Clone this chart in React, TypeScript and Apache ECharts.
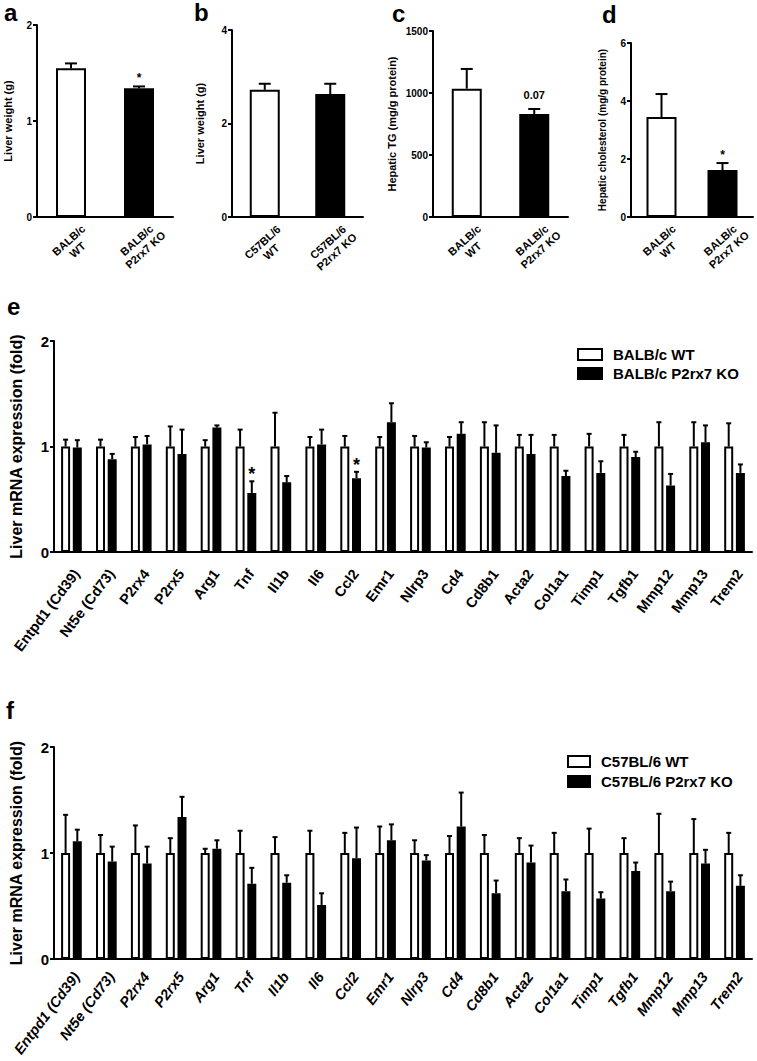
import React, { useEffect, useRef } from "react";
import * as echarts from "echarts";

// ---------- data ----------
const topLabelsBalb = ["BALB/c\nWT", "BALB/c\nP2rx7 KO"];
const topLabelsC57 = ["C57BL/6\nWT", "C57BL/6\nP2rx7 KO"];

const aMeans = [1.55, 1.34];
const aErrTop = [1.6, 1.36];
const aMarks = ["", "*"];

const bMeans = [2.72, 2.63];
const bErrTop = [2.85, 2.85];
const bMarks = ["", ""];

const cMeans = [1035, 830];
const cErrTop = [1194, 871];
const cMarks = ["", "0.07"];

const dMeans = [3.45, 1.62];
const dErrTop = [4.24, 1.86];
const dMarks = ["", "*"];

const genes = [
  "Entpd1 (Cd39)", "Nt5e (Cd73)", "P2rx4", "P2rx5", "Arg1", "Tnf", "Il1b", "Il6", "Ccl2", "Emr1",
  "Nlrp3", "Cd4", "Cd8b1", "Acta2", "Col1a1", "Timp1", "Tgfb1", "Mmp12", "Mmp13", "Trem2",
];

const eWtMeans = [1, 1, 1, 1, 1, 1, 1, 1, 1, 1, 1, 1, 1, 1, 1, 1, 1, 1, 1, 1];
const eWtErrTop = [1.065, 1.065, 1.09, 1.19, 1.06, 1.16, 1.32, 1.09, 1.1, 1.09, 1.1, 1.09, 1.23, 1.11, 1.11, 1.12, 1.11, 1.23, 1.23, 1.22];
const eKoMeans = [0.99, 0.88, 1.02, 0.93, 1.18, 0.56, 0.66, 1.02, 0.7, 1.23, 0.99, 1.12, 0.94, 0.93, 0.72, 0.75, 0.9, 0.63, 1.04, 0.75];
const eKoErrTop = [1.06, 0.93, 1.1, 1.16, 1.2, 0.67, 0.72, 1.16, 0.76, 1.41, 1.04, 1.23, 1.2, 1.11, 0.77, 0.86, 0.95, 0.74, 1.2, 0.83];
const eKoMarks = ["", "", "", "", "", "*", "", "", "*", "", "", "", "", "", "", "", "", "", "", ""];

const fWtMeans = [1, 1, 1, 1, 1, 1, 1, 1, 1, 1, 1, 1, 1, 1, 1, 1, 1, 1, 1, 1];
const fWtErrTop = [1.36, 1.17, 1.26, 1.14, 1.04, 1.21, 1.15, 1.21, 1.19, 1.25, 1.12, 1.16, 1.17, 1.14, 1.19, 1.23, 1.14, 1.37, 1.32, 1.19];
const fKoMeans = [1.11, 0.92, 0.9, 1.34, 1.04, 0.71, 0.72, 0.51, 0.95, 1.12, 0.93, 1.25, 0.62, 0.91, 0.64, 0.57, 0.83, 0.64, 0.9, 0.69];
const fKoErrTop = [1.22, 1.06, 1.06, 1.53, 1.12, 0.86, 0.79, 0.62, 1.24, 1.27, 0.98, 1.57, 0.74, 1.07, 0.75, 0.63, 0.91, 0.73, 1.03, 0.79];
const fKoMarks = genes.map(() => "");

const eSeriesNames = ["BALB/c WT", "BALB/c P2rx7 KO"];
const fSeriesNames = ["C57BL/6 WT", "C57BL/6 P2rx7 KO"];

// ---------- helpers ----------
const FONT = "'Liberation Sans', Arial, sans-serif";
const BLACK = "#000";

function errSeries(
  grid: number,
  means: number[],
  tops: number[],
  offset: number,
  capHalf: number,
  marks: string[],
  markSize: number,
  markGap: number
) {
  return {
    type: "custom",
    xAxisIndex: grid,
    yAxisIndex: grid,
    z: 5,
    silent: true,
    data: means.map((m, i) => [i, m, tops[i]]),
    renderItem: (params: any, api: any) => {
      const i = api.value(0);
      const m = api.value(1);
      const t = api.value(2);
      const p0 = api.coord([i, m]);
      const p1 = api.coord([i, t]);
      const x = p0[0] + offset;
      const children: any[] = [
        { type: "line", shape: { x1: x, y1: p0[1], x2: x, y2: p1[1] }, style: { stroke: BLACK, lineWidth: 2 } },
        { type: "line", shape: { x1: x - capHalf, y1: p1[1], x2: x + capHalf, y2: p1[1] }, style: { stroke: BLACK, lineWidth: 2 } },
      ];
      const mk = marks[params.dataIndex];
      if (mk) {
        children.push({
          type: "text",
          style: {
            text: mk,
            x: x,
            y: p1[1] - markGap,
            align: "center",
            verticalAlign: "bottom",
            fill: BLACK,
            font: `bold ${markSize}px ${FONT}`,
          },
        });
      }
      return { type: "group", children };
    },
  };
}

// category labels drawn at the axis' own category positions, rotated
function labelSeries(
  grid: number,
  labels: string[],
  rotateDeg: number,
  fontSize: number,
  dx: number,
  dy: number,
  align: string,
  italic: boolean
) {
  return {
    type: "custom",
    xAxisIndex: grid,
    yAxisIndex: grid,
    silent: true,
    clip: false,
    z: 6,
    data: labels.map((l, i) => [i, 0]),
    renderItem: (params: any, api: any) => {
      const p = api.coord([api.value(0), 0]);
      return {
        type: "text",
        x: p[0] + dx,
        y: p[1] + dy,
        rotation: (rotateDeg * Math.PI) / 180,
        style: {
          text: labels[params.dataIndex],
          align,
          verticalAlign: "middle",
          fill: BLACK,
          font: `${italic ? "italic " : ""}bold ${fontSize}px ${FONT}`,
          lineHeight: fontSize + 2,
        },
      };
    },
  };
}

function yAxisCfg(grid: number, max: number, interval: number, name: string, nameGap: number, fontSize: number, nameSize: number) {
  return {
    type: "value",
    gridIndex: grid,
    min: 0,
    max,
    interval,
    name,
    nameLocation: "middle",
    nameGap,
    nameRotate: 90,
    nameTextStyle: { fontFamily: FONT, fontWeight: "bold", fontSize: nameSize, color: BLACK },
    axisLine: { show: true, lineStyle: { color: BLACK, width: 2 } },
    axisTick: { show: true, length: 4, lineStyle: { color: BLACK, width: 2 } },
    axisLabel: {
      fontFamily: FONT,
      fontWeight: "bold",
      fontSize,
      color: BLACK,
      margin: 5,
      formatter: (v: number) => String(v),
    },
    splitLine: { show: false },
  };
}

function xAxisCfg(grid: number, data: string[]) {
  return {
    type: "category",
    gridIndex: grid,
    data,
    axisLine: { show: true, lineStyle: { color: BLACK, width: 2 } },
    axisTick: { show: false },
    axisLabel: { show: false },
  };
}

const whiteStyle = { color: "#fff", borderColor: BLACK, borderWidth: 2 };
const blackStyle = { color: BLACK, borderColor: BLACK, borderWidth: 2 };

function topBar(grid: number, means: number[]) {
  return {
    type: "bar",
    xAxisIndex: grid,
    yAxisIndex: grid,
    barWidth: 30,
    data: [
      { value: means[0], itemStyle: whiteStyle },
      { value: means[1], itemStyle: blackStyle },
    ],
  };
}

const BW = 9;
const GAP = 2.7;
const OFF = (BW + GAP) / 2;

function geneBars(grid: number, names: string[], wt: number[], ko: number[]) {
  return [
    { type: "bar", name: names[0], xAxisIndex: grid, yAxisIndex: grid, barWidth: BW, barGap: "30%", itemStyle: whiteStyle, data: wt },
    { type: "bar", name: names[1], xAxisIndex: grid, yAxisIndex: grid, barWidth: BW, barGap: "30%", itemStyle: blackStyle, data: ko },
  ];
}

function letter(t: string, x: number, y: number) {
  return {
    type: "text",
    left: x,
    top: y,
    style: { text: t, fill: BLACK, font: `bold 24px ${FONT}` },
  };
}

function legendCfg(names: string[], left: number, top: number, w: number, gap: number) {
  return {
    data: names,
    orient: "vertical",
    left,
    top,
    itemWidth: w,
    itemHeight: 11,
    itemGap: gap,
    icon: "rect",
    textStyle: { fontFamily: FONT, fontWeight: "bold", fontSize: 15, color: BLACK, padding: [0, 0, 0, 6] },
    selectedMode: false,
  };
}

export default function App() {
  const ref = useRef<HTMLDivElement>(null);
  useEffect(() => {
    if (!ref.current) return;
    const chart = echarts.init(ref.current, null, { renderer: "svg" });
    const noMarks = genes.map(() => "");
    const TOPROT = 42;
    const option: any = {
      animation: false,
      backgroundColor: "#fff",
      grid: [
        { left: 37, top: 25, width: 136, height: 192 },
        { left: 232, top: 30, width: 131, height: 187 },
        { left: 433, top: 31, width: 135, height: 186 },
        { left: 631, top: 43, width: 122, height: 174 },
        { left: 52, top: 341, width: 700, height: 211 },
        { left: 52, top: 747, width: 700, height: 212 },
      ],
      xAxis: [
        xAxisCfg(0, topLabelsBalb),
        xAxisCfg(1, topLabelsC57),
        xAxisCfg(2, topLabelsBalb),
        xAxisCfg(3, topLabelsBalb),
        xAxisCfg(4, genes),
        xAxisCfg(5, genes),
      ],
      yAxis: [
        yAxisCfg(0, 2, 1, "Liver weight (g)", 24, 10, 11),
        yAxisCfg(1, 4, 2, "Liver weight (g)", 27, 10, 11),
        yAxisCfg(2, 1500, 500, "Hepatic TG (mg/g protein)", 36, 10, 11),
        yAxisCfg(3, 6, 2, "Hepatic cholesterol (mg/g protein)", 24, 10, 10),
        yAxisCfg(4, 2, 1, "Liver mRNA expression (fold)", 30, 15, 16),
        yAxisCfg(5, 2, 1, "Liver mRNA expression (fold)", 30, 15, 16),
      ],
      legend: [
        legendCfg(eSeriesNames, 572, 342, 24, 4),
        legendCfg(fSeriesNames, 562, 749, 22, 5),
      ],
      graphic: [
        letter("a", 4, 0),
        letter("b", 194, 0),
        letter("c", 392, 1),
        letter("d", 602, 2),
        letter("e", 7, 294),
        letter("f", 6, 698),
      ],
      series: [
        topBar(0, aMeans),
        errSeries(0, aMeans, aErrTop, 0, 6, aMarks, 12, 2),
        labelSeries(0, topLabelsBalb, TOPROT, 11, 2, 28, "center", false),
        topBar(1, bMeans),
        errSeries(1, bMeans, bErrTop, 0, 6, bMarks, 12, 2),
        labelSeries(1, topLabelsC57, TOPROT, 11, 2, 30, "center", false),
        topBar(2, cMeans),
        errSeries(2, cMeans, cErrTop, 0, 6, cMarks, 11, 8),
        labelSeries(2, topLabelsBalb, TOPROT, 11, 2, 28, "center", false),
        topBar(3, dMeans),
        errSeries(3, dMeans, dErrTop, 0, 6, dMarks, 12, 2),
        labelSeries(3, topLabelsBalb, TOPROT, 11, 2, 28, "center", false),
        ...geneBars(4, eSeriesNames, eWtMeans, eKoMeans),
        errSeries(4, eWtMeans, eWtErrTop, -OFF, 2.5, noMarks, 18, 0),
        errSeries(4, eKoMeans, eKoErrTop, OFF, 2.5, eKoMarks, 18, -2),
        labelSeries(4, genes, 53, 14.5, 5, 19, "right", false),
        ...geneBars(5, fSeriesNames, fWtMeans, fKoMeans),
        errSeries(5, fWtMeans, fWtErrTop, -OFF, 2.5, noMarks, 18, 0),
        errSeries(5, fKoMeans, fKoErrTop, OFF, 2.5, fKoMarks, 18, -2),
        labelSeries(5, genes, 53, 14.5, 5, 15, "right", true),
      ],
    };
    chart.setOption(option);
    return () => chart.dispose();
  }, []);
  return (
    <div
      ref={ref}
      style={{ position: "fixed", left: 0, top: 0, width: 757, height: 1061, background: "#fff" }}
    />
  );
}
